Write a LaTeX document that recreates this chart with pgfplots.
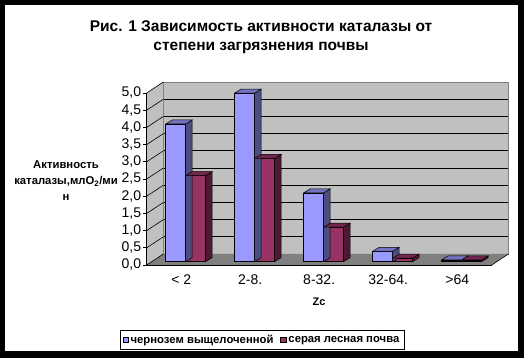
\documentclass[border=0pt]{standalone}
\usepackage{pgfplots}
\pgfplotsset{compat=1.18}
\usepackage{fontspec}
\setmainfont{Liberation Sans}
\definecolor{cA}{HTML}{9999FF}
\definecolor{cAtop}{HTML}{7373BF}
\definecolor{cAside}{HTML}{4D4D80}
\definecolor{cB}{HTML}{993366}
\definecolor{cBtop}{HTML}{73264D}
\definecolor{cBside}{HTML}{4D1A33}
\definecolor{wall}{HTML}{C0C0C0}
\definecolor{floorc}{HTML}{808080}

% 3D faces (top and right side) of a bar, drawn at the bar's top centre
\newcommand\defbarmark[3]{%
\pgfdeclareplotmark{#1}{%
  \pgfmathsetmacro\barH{\pgfplotspointmetatransformed*0.172}%
  \pgfmathsetmacro\yb{4-\barH}%
  \pgfsetlinewidth{0.5pt}\pgfsetstrokecolor{black}%
  \pgfsetfillcolor{#2}%
  \pgfpathmoveto{\pgfqpoint{10pt}{0pt}}%
  \pgfpathlineto{\pgfqpoint{16.5pt}{4pt}}%
  \pgfpathlineto{\pgfqpoint{16.5pt}{\yb pt}}%
  \pgfpathlineto{\pgfqpoint{10pt}{-\barH pt}}%
  \pgfpathclose
  \pgfusepathqfillstroke
  \pgfsetfillcolor{#3}%
  \pgfpathmoveto{\pgfqpoint{-10pt}{0pt}}%
  \pgfpathlineto{\pgfqpoint{10pt}{0pt}}%
  \pgfpathlineto{\pgfqpoint{16.5pt}{4pt}}%
  \pgfpathlineto{\pgfqpoint{-3.5pt}{4pt}}%
  \pgfpathclose
  \pgfusepathqfillstroke
}}
\defbarmark{barA}{cAside}{cAtop}
\defbarmark{barB}{cBside}{cBtop}

\pgfplotstableread{
x   chern  grey
0.5 4.0    2.5
1.5 4.9    3.0
2.5 2.0    1.0
3.5 0.3    0.1
4.5 0.05   0.05
}\datatable

\begin{document}
\begin{tikzpicture}[x=1pt,y=1pt]
% frame
\fill[black] (0,0) rectangle (524,358);
\fill[white] (5,7) rectangle (518,353);
% title
\node[font=\fontsize{15.5}{19.5}\selectfont\bfseries, align=center] at (261,321)
  {Рис. 1 Зависимость активности каталазы от\\степени загрязнения почвы};
% back wall
\begin{axis}[at={(163.4pt,104pt)}, anchor=south west, scale only axis,
  width=345pt, height=172pt, xmin=0, xmax=5, ymin=0, ymax=5,
  axis background/.style={fill=wall},
  axis line style={draw=floorc, line width=0.6pt},
  xtick=\empty, ytick={0.5,1,1.5,2,2.5,3,3.5,4,4.5}, yticklabels={},
  major tick length=0pt, ymajorgrids,
  grid style={black, line width=0.6pt}]
\end{axis}
% left wall and floor
\fill[wall] (146.7,93) -- (146.7,265) -- (163.4,276) -- (163.4,104) -- cycle;
\draw[floorc, line width=0.6pt] (163.4,104) -- (163.4,276);
\fill[floorc] (146.7,93) -- (163.4,104) -- (508.4,104) -- (491.7,93) -- cycle;
\foreach \v in {0,0.5,...,5.01}
  \draw[black, line width=0.6pt] (146.7,{93+\v*34.4}) -- ++(16.7,11);
\draw[black, line width=0.6pt] (491.7,93) -- (508.4,104);
% front axis
\begin{axis}[at={(146.7pt,93pt)}, anchor=south west, scale only axis,
  width=345pt, height=172pt, xmin=0, xmax=5, ymin=0, ymax=5,
  axis x line*=bottom, axis y line*=left,
  axis line style={black, line width=0.7pt},
  tick align=outside, tick style={black, line width=0.7pt},
  ytick={0,0.5,1,1.5,2,2.5,3,3.5,4,4.5,5},
  major tick length=3.5pt,
  /pgf/number format/fixed, /pgf/number format/fixed zerofill,
  /pgf/number format/precision=1, /pgf/number format/use comma,
  /pgf/number format/assume math mode=true,
  yticklabel style={font=\fontsize{14}{16}\selectfont, xshift=1.5pt},
  xtick={0.5,1.5,2.5,3.5,4.5},
  xticklabels={< 2, 2-8., 8-32., 32-64., >64},
  x tick style={draw=none},
  minor xtick={0,1,2,3,4,5},
  minor tick length=4pt,
  xticklabel style={font=\fontsize{14}{16}\selectfont, yshift=-3pt},
  ]
\end{axis}
% bars
\begin{axis}[at={(151.2pt,96.4pt)}, anchor=south west, scale only axis,
  width=345pt, height=172pt, xmin=0, xmax=5, ymin=0, ymax=5,
  hide axis, clip=false, bar width=20pt,
  point meta min=0, point meta max=5,
  legend columns=2,
  legend style={at={(262pt-151.2pt,18pt-96.4pt)}, anchor=center,
    draw=black, line width=0.6pt, font=\fontsize{11.3}{13}\selectfont\bfseries,
    inner sep=2.5pt, /tikz/every even column/.append style={column sep=5pt}},
  legend image code/.code={\draw[#1, line width=0.5pt] (0pt,-2.5pt) rectangle (5.5pt,3pt);},
  ]
\addplot[ybar, bar shift=-10pt, fill=cA, draw=black, line width=0.5pt] table[x=x, y=chern] {\datatable};
\addlegendentry{чернозем выщелоченной}
\addplot[scatter, only marks, mark=barA, point meta=y, xshift=-10pt, forget plot,
  scatter/use mapped color={draw=black, fill=black}] table[x=x, y=chern] {\datatable};
\addplot[ybar, bar shift=10pt, fill=cB, draw=black, line width=0.5pt] table[x=x, y=grey] {\datatable};
\addlegendentry{серая лесная почва}
\addplot[scatter, only marks, mark=barB, point meta=y, xshift=10pt, forget plot,
  scatter/use mapped color={draw=black, fill=black}] table[x=x, y=grey] {\datatable};
\end{axis}
% axis labels
\node[font=\fontsize{11.3}{16}\selectfont\bfseries, align=center] at (66,177)
  {Активность\\каталазы,млO\textsubscript{2}/ми\\н};
\node[font=\fontsize{11}{12}\selectfont\bfseries] at (319,56) {Zc};
\end{tikzpicture}
\end{document}
